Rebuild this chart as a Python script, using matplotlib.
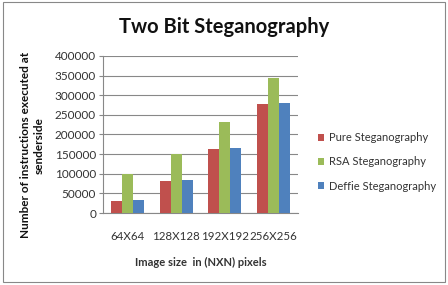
import numpy as np
import matplotlib
matplotlib.use("Agg")
import matplotlib.pyplot as plt
from matplotlib.patches import Rectangle

plt.rcParams['font.family'] = ['Lato', 'DejaVu Sans']

categories = ["64X64", "128X128", "192X192", "256X256"]
pure = [30000, 82000, 163000, 278000]
rsa = [100000, 150000, 233000, 345000]
deffie = [33000, 84000, 166000, 280000]
series_names = ["Pure Steganography", "RSA Steganography", "Deffie Steganography"]
colors = ["#C0504D", "#9BBB59", "#4F81BD"]

fig = plt.figure(figsize=(4.48, 2.85), dpi=100)
fig.patches.append(Rectangle((0.006, 0.01), 0.988, 0.982, transform=fig.transFigure,
                             fill=False, edgecolor="#888888", linewidth=0.8))
ax = fig.add_axes([103/448, 1-213/285, 195/448, 157/285])

x = np.arange(len(categories))
w = 0.225
for i, (vals, name, c) in enumerate(zip([pure, rsa, deffie], series_names, colors)):
    ax.bar(x + (i-1)*w, vals, width=w, color=c, label=name, zorder=3)

ax.set_xlim(-0.5, 3.5)
ax.set_ylim(0, 400000)
ax.set_yticks(range(0, 400001, 50000))
ax.yaxis.grid(True, color="#888888", linewidth=0.8, zorder=0)
for s in ["top", "right"]:
    ax.spines[s].set_visible(False)
ax.spines["left"].set_color("#888888")
ax.spines["bottom"].set_color("#888888")
ax.tick_params(axis="y", length=3, color="#888888", labelsize=8.5, labelcolor="#333333", pad=2)
ax.tick_params(axis="x", length=0, labelsize=8.3, labelcolor="#333333", pad=13)
ax.set_xticks(x)
ax.set_xticklabels(categories)

fig.text(0.5, 0.905, "Two Bit Steganography", ha="center", va="center",
         fontsize=14.5, fontweight="bold", color="#111111")
ax.set_xlabel("Image size  in (NXN) pixels", fontsize=8, fontweight="bold",
              color="#333333", labelpad=11)
fig.text(32/448, 0.49, "Number of instructions executed at\nsenderside",
         rotation=90, ha="center", va="center", multialignment="center",
         fontsize=8.5, fontweight="bold", color="#111111", linespacing=1.3)

ax.legend(loc="center left", bbox_to_anchor=(1.05, 0.325), frameon=False,
          fontsize=8, handlelength=0.6, handleheight=0.6, handletextpad=0.4,
          labelspacing=1.2, labelcolor="#333333")

fig.savefig("out.png", dpi=100)
